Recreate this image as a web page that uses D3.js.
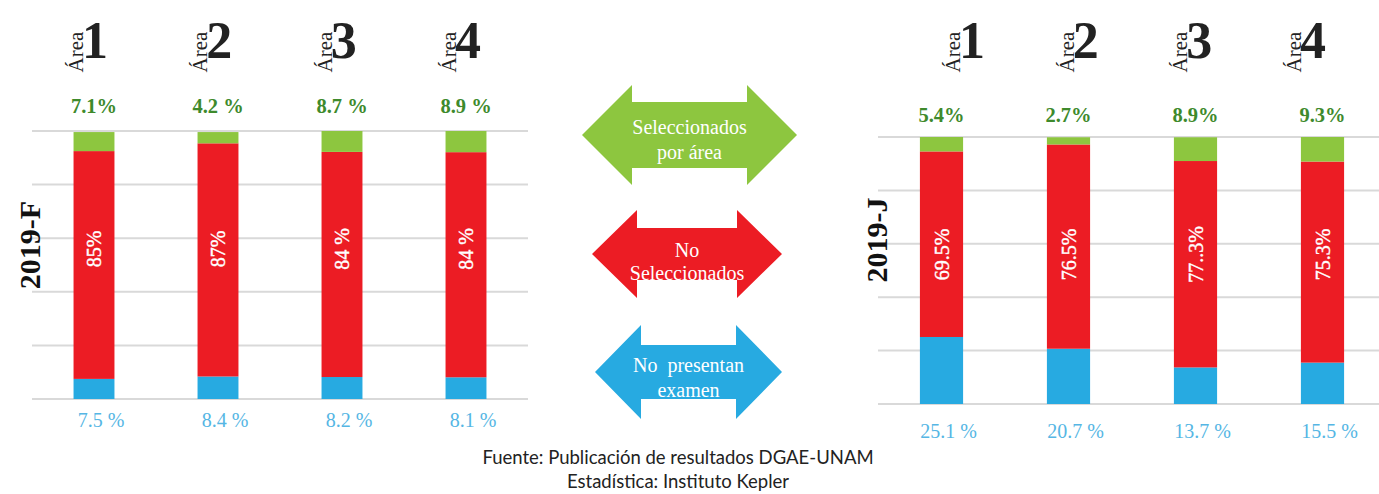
<!DOCTYPE html>
<html><head><meta charset="utf-8">
<script src="https://cdn.jsdelivr.net/npm/d3@7"></script>
<style>html,body{margin:0;padding:0;background:#fff;}svg{display:block;}</style>
</head><body>
<script>
// ---------- DATA ----------
const areas = ["1", "2", "3", "4"];
const periods = ["2019-F", "2019-J"];
const noPresentan_F = [7.5, 8.4, 8.2, 8.1];
const noSeleccionados_F = [85, 87, 84, 84];
const seleccionados_F = [7.1, 4.2, 8.7, 8.9];
const noPresentan_J = [25.1, 20.7, 13.7, 15.5];
const noSeleccionados_J = [69.5, 76.5, 77.3, 75.3];
const seleccionados_J = [5.4, 2.7, 8.9, 9.3];
const labelsBlue_F = ["7.5 %", "8.4 %", "8.2 %", "8.1 %"];
const labelsRed_F = ["85%", "87%", "84 %", "84 %"];
const labelsGreen_F = ["7.1%", "4.2 %", "8.7 %", "8.9 %"];
const labelsBlue_J = ["25.1 %", "20.7 %", "13.7 %", "15.5 %"];
const labelsRed_J = ["69.5%", "76.5%", "77..3%", "75.3%"];
const labelsGreen_J = ["5.4%", "2.7%", "8.9%", "9.3%"];
const yTicks = [0, 20, 40, 60, 80, 100];
const legendLabels = [["Seleccionados", "por área"], ["No", "Seleccionados"], ["No  presentan", "examen"]];
const sourceLines = ["Fuente: Publicación de resultados DGAE-UNAM", "Estadística: Instituto Kepler"];

// ---------- STYLE ----------
const C_GREEN = "#8dc63f", C_RED = "#ec1c24", C_BLUE = "#27aae1";
const C_GREEN_TXT = "#3e8a2c", C_BLUE_TXT = "#55b6e4", C_GRID = "#d9d9d9";
const SERIF = "'Liberation Serif','Times New Roman',serif";

const W = 1379, H = 494;
const svg = d3.select("body").append("svg").attr("width", W).attr("height", H);

const panels = [
  { title: periods[0], blue: noPresentan_F, red: noSeleccionados_F, green: seleccionados_F,
    lb: labelsBlue_F, lr: labelsRed_F, lg: labelsGreen_F,
    xr: [32, 528], gridEnd: 528, yr: [399, 131], pad: 0.67, headR: [94, 467],
    titleX: 40, titleY: 245, greenOff: 18, blueOff: 28 },
  { title: periods[1], blue: noPresentan_J, red: noSeleccionados_J, green: seleccionados_J,
    lb: labelsBlue_J, lr: labelsRed_J, lg: labelsGreen_J,
    xr: [878, 1386], gridEnd: 1379, yr: [404, 137], pad: 0.66, headR: [971, 1312],
    titleX: 887, titleY: 240, greenOff: 15, blueOff: 34 }
];

panels.forEach(p => {
  const x = d3.scaleBand().domain(areas).range(p.xr).paddingInner(p.pad).paddingOuter(p.pad / 2);
  const y = d3.scaleLinear().domain([0, 100]).range(p.yr);
  const hx = d3.scalePoint().domain(areas).range(p.headR);
  const g = svg.append("g");

  // gridlines
  g.selectAll("line.grid").data(yTicks).join("line")
    .attr("x1", p.xr[0]).attr("x2", p.gridEnd)
    .attr("y1", d => y(d)).attr("y2", d => y(d))
    .attr("stroke", C_GRID).attr("stroke-width", 2);

  // stacked data
  const rows = areas.map((a, i) => ({ area: a, blue: p.blue[i], red: p.red[i], green: p.green[i] }));
  const stack = d3.stack().keys(["blue", "red", "green"])(rows);
  const colors = { blue: C_BLUE, red: C_RED, green: C_GREEN };
  stack.forEach(layer => {
    g.selectAll(null).data(layer).join("rect")
      .attr("x", d => x(d.data.area))
      .attr("width", x.bandwidth())
      .attr("y", d => y(Math.min(d[1], 100)))
      .attr("height", d => y(d[0]) - y(Math.min(d[1], 100)))
      .attr("fill", colors[layer.key]);
  });

  const cx = a => x(a) + x.bandwidth() / 2;

  // red labels (rotated, inside bars)
  g.selectAll(null).data(areas).join("text")
    .attr("transform", (a) => `translate(${cx(a) + 7},${y(56)}) rotate(-90)`)
    .attr("text-anchor", "middle")
    .attr("font-family", SERIF).attr("font-size", 20).attr("fill", "#fff")
    .attr("stroke", "#fff").attr("stroke-width", 0.4)
    .text((a, i) => p.lr[i]);

  // green labels above
  g.selectAll(null).data(areas).join("text")
    .attr("x", a => cx(a)).attr("y", p.yr[1] - p.greenOff)
    .attr("text-anchor", "middle")
    .attr("font-family", SERIF).attr("font-weight", "bold").attr("font-size", 20.5)
    .attr("fill", C_GREEN_TXT)
    .text((a, i) => p.lg[i]);

  // blue labels below
  g.selectAll(null).data(areas).join("text")
    .attr("x", a => cx(a) + 7).attr("y", p.yr[0] + p.blueOff)
    .attr("text-anchor", "middle")
    .attr("font-family", SERIF).attr("font-size", 20)
    .attr("fill", C_BLUE_TXT)
    .text((a, i) => p.lb[i]);

  // area headings
  const heads = g.selectAll(null).data(areas).join("g");
  heads.append("text")
    .attr("x", a => hx(a) - 12).attr("y", 58)
    .attr("font-family", SERIF).attr("font-weight", "bold").attr("font-size", 52)
    .attr("fill", "#222")
    .text(a => a);
  heads.append("text")
    .attr("transform", a => `translate(${hx(a) - 11},52) rotate(-90)`)
    .attr("text-anchor", "middle")
    .attr("font-family", SERIF).attr("font-size", 21).attr("fill", "#222")
    .text("Área");

  // period title
  g.append("text")
    .attr("transform", `translate(${p.titleX},${p.titleY}) rotate(-90)`)
    .attr("text-anchor", "middle")
    .attr("font-family", SERIF).attr("font-weight", "bold").attr("font-size", 30)
    .attr("fill", "#111")
    .text(p.title);
});

// ---------- LEGEND (double arrows) ----------
const arrows = [
  { color: C_GREEN, cx: 689.5, cy: 135, w: 215, head: 50, hh: 50, sh: 33, ty: [134, 159] },
  { color: C_RED, cx: 687, cy: 254, w: 190, head: 45, hh: 44, sh: 26, ty: [257, 280] },
  { color: C_BLUE, cx: 688.5, cy: 372, w: 187, head: 46, hh: 47, sh: 27, ty: [372, 397] }
];
arrows.forEach((a, i) => {
  const L = a.cx - a.w / 2, R = a.cx + a.w / 2;
  const pts = [[L, a.cy], [L + a.head, a.cy - a.hh], [L + a.head, a.cy - a.sh], [R - a.head, a.cy - a.sh],
    [R - a.head, a.cy - a.hh], [R, a.cy], [R - a.head, a.cy + a.hh], [R - a.head, a.cy + a.sh],
    [L + a.head, a.cy + a.sh], [L + a.head, a.cy + a.hh]];
  svg.append("path").attr("d", d3.line()(pts) + "Z").attr("fill", a.color);
  svg.selectAll(null).data(legendLabels[i]).join("text")
    .attr("x", a.cx).attr("y", (d, j) => a.ty[j])
    .attr("text-anchor", "middle")
    .attr("font-family", SERIF).attr("font-size", 20).attr("fill", "#fff")
    .style("white-space", "pre").attr("xml:space", "preserve")
    .text(d => d);
});

// ---------- SOURCE ----------
svg.selectAll("text.src").data(sourceLines).join("text")
  .attr("class", "src")
  .attr("x", 678).attr("y", (d, i) => 464 + i * 24)
  .attr("text-anchor", "middle")
  .attr("font-family", "Lato, 'Open Sans', sans-serif").attr("font-size", 18.5).attr("fill", "#222")
  .text(d => d);
</script>
</body></html>
